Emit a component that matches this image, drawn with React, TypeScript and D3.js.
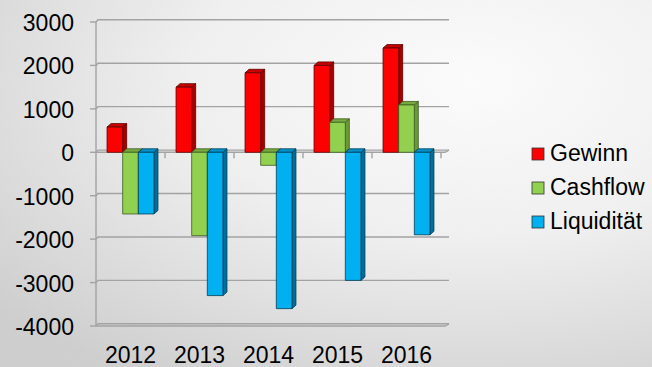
import React from "react";
import * as d3 from "d3";

const years = ["2012", "2013", "2014", "2015", "2016"];
const seriesNames = ["Gewinn", "Cashflow", "Liquidität"];
const gewinn = [580, 1500, 1830, 2000, 2400];
const cashflow = [-1420, -1920, -300, 690, 1090];
const liquiditaet = [-1420, -3300, -3600, -2950, -1900];
const yTicks = [3000, 2000, 1000, 0, -1000, -2000, -3000, -4000];

const W = 652;
const H = 367;
const FONT = "'Liberation Sans', Arial, sans-serif";

// face colours per series: front, side, top, outline
const palette = [
  { front: "#ff0000", side: "#a80000", top: "#c80000", stroke: "#5a0000" },
  { front: "#92d050", side: "#6a9a38", top: "#78aa42", stroke: "#3c5a20" },
  { front: "#00b0f0", side: "#006f9a", top: "#0092c8", stroke: "#003e58" },
];

export default function App() {
  const values = [gewinn, cashflow, liquiditaet];

  const y = d3.scaleLinear().domain([-4000, 3000]).range([326, 22]);
  const x = d3
    .scaleBand<string>()
    .domain(years)
    .range([96, 441])
    .paddingInner(0.32)
    .paddingOuter(0.16);
  const xs = d3.scaleBand<string>().domain(seriesNames).range([0, x.bandwidth()]);
  const step = x.step();

  // 3D depth of bars and walls
  const bdx = 4;
  const bdy = -3.5;
  const gdx = 2;
  const gdy = -2.2;

  const plotLeft = 96;
  const plotRight = 445;
  const y0 = y(0);
  const gridColor = "#a3a3a3";

  const bars: React.ReactNode[] = [];
  years.forEach((yr, i) => {
    seriesNames.forEach((s, j) => {
      const v = values[j][i];
      const c = palette[j];
      const x0 = (x(yr) as number) + (xs(s) as number);
      const w = xs.bandwidth();
      const yt = y(Math.max(v, 0));
      const yb = y(Math.min(v, 0));
      const top = `${x0},${yt} ${x0 + bdx},${yt + bdy} ${x0 + w + bdx},${yt + bdy} ${x0 + w},${yt}`;
      const side = `${x0 + w},${yt} ${x0 + w + bdx},${yt + bdy} ${x0 + w + bdx},${yb + bdy} ${x0 + w},${yb}`;
      bars.push(
        <g key={`${yr}-${s}`} strokeWidth={0.8} stroke={c.stroke} strokeLinejoin="round">
          <polygon points={side} fill={c.side} />
          <polygon points={top} fill={c.top} />
          <rect x={x0} y={yt} width={w} height={yb - yt} fill={c.front} />
        </g>
      );
    });
  });

  return (
    <svg
      width={W}
      height={H}
      style={{ position: "absolute", left: 0, top: 0, display: "block" }}
      fontFamily={FONT}
    >
      <defs>
        <radialGradient id="bg" cx="0.72" cy="0.22" r="0.95">
          <stop offset="0" stopColor="#fdfdfd" />
          <stop offset="0.45" stopColor="#f1f1f1" />
          <stop offset="1" stopColor="#cfcfcf" />
        </radialGradient>
        <filter id="grain" x="0" y="0" width="100%" height="100%">
          <feTurbulence type="fractalNoise" baseFrequency="0.9" numOctaves="2" seed="3" />
          <feColorMatrix
            type="matrix"
            values="0 0 0 0 0.5  0 0 0 0 0.5  0 0 0 0 0.5  0 0 0 0.06 0"
          />
        </filter>
      </defs>
      <rect width={W} height={H} fill="url(#bg)" />
      <rect width={W} height={H} filter="url(#grain)" />

      {/* back-wall gridlines with left-wall connectors and y ticks */}
      <g stroke={gridColor} strokeWidth={1.4} fill="none">
        {yTicks.map((t) => {
          const ty = y(t);
          return (
            <g key={t}>
              <line x1={90} y1={ty} x2={plotLeft} y2={ty} />
              <polyline
                points={`${plotLeft},${ty} ${plotLeft + gdx},${ty + gdy} ${plotRight + 4},${ty + gdy}`}
              />
            </g>
          );
        })}
        {/* floor front edge */}
        <polyline
          points={`${plotLeft},${y(-4000)} ${plotRight},${y(-4000)} ${plotRight + 4},${y(-4000) + gdy}`}
        />
        {/* zero plane front edge */}
        <polyline points={`${plotLeft},${y0} ${plotRight},${y0} ${plotRight + 4},${y0 + gdy}`} />
        {/* value axis */}
        <line x1={plotLeft} y1={y(3000)} x2={plotLeft} y2={y(-4000)} />
        {/* category ticks on the zero line */}
        {years.map((yr) => {
          const tx = (x(yr) as number) + x.bandwidth() + step * 0.16;
          return <line key={yr} x1={tx} y1={y0} x2={tx} y2={y0 + 6} />;
        })}
      </g>

      {bars}

      {/* value axis labels */}
      <g fontSize={23} fill="#000" textAnchor="end">
        {yTicks.map((t) => (
          <text key={t} x={74} y={y(t) + 9}>
            {t}
          </text>
        ))}
      </g>

      {/* category labels */}
      <g fontSize={23} fill="#000" textAnchor="middle">
        {years.map((yr) => (
          <text key={yr} x={(x(yr) as number) + x.bandwidth() / 2} y={363}>
            {yr}
          </text>
        ))}
      </g>

      {/* legend */}
      <g fontSize={23} fill="#000">
        {seriesNames.map((s, j) => (
          <g key={s} transform={`translate(532, ${148 + j * 34})`}>
            <rect x={0} y={0} width={12} height={12} fill={palette[j].front} stroke="#333" strokeWidth={0.8} />
            <text x={18} y={13}>
              {s}
            </text>
          </g>
        ))}
      </g>
    </svg>
  );
}
